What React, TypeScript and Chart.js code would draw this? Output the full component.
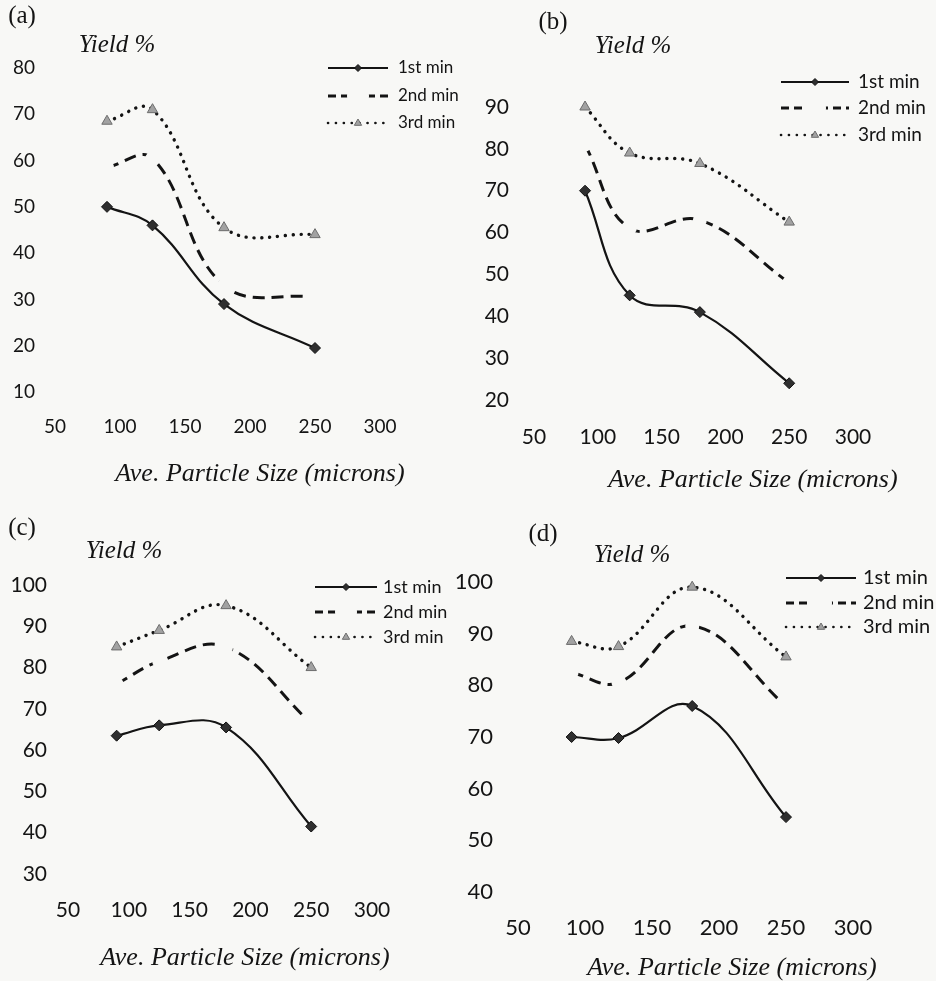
import React, { useEffect, useRef } from 'react';
import { Chart, registerables } from 'chart.js';

Chart.register(...registerables);

// ---------- data ----------
const particleSizes = [90, 125, 180, 250];
const seriesNames = ['1st min', '2nd min', '3rd min'];
const xTickStep = 50;
const xMin = 50;
const xMax = 300;
const yTickStep = 10;

const aFirst = [50, 46, 29, 19.5];
const aSecond = [58.5, 60.5, 33, 30.5];
const aThird = [68.5, 71, 45.5, 44];
const aRange = [10, 80];

const bFirst = [70, 45, 41, 24];
const bSecond = [81, 61, 63, 48];
const bThird = [90, 79, 76.5, 62.5];
const bRange = [20, 90];

const cFirst = [63.5, 66, 65.5, 41.5];
const cSecond = [76, 81.5, 85, 66.5];
const cThird = [85, 89, 95, 80];
const cRange = [30, 100];

const dFirst = [70, 69.8, 76, 54.5];
const dSecond = [82.5, 80.5, 91.5, 76];
const dThird = [88.5, 87.5, 99, 85.5];
const dRange = [40, 100];

const panelTags = ['(a)', '(b)', '(c)', '(d)'];
const yTitle = 'Yield %';
const xTitle = 'Ave. Particle Size (microns)';

// ---------- styles / layout ----------
const BG = '#f8f8f6';
const INK = '#141414';
const SANS = 'Lato, "Open Sans", "Liberation Sans", sans-serif';
const SERIF = '"Liberation Serif", "DejaVu Serif", serif';

type Panel = {
  tag: string;
  first: number[];
  second: number[];
  third: number[];
  range: number[];
  box: { left: number; top: number; w: number; h: number };
  area: { left: number; right: number; top: number; bottom: number };
  tickFont: number;
  yPad: number;
  xPad: number;
  legend: { x0: number; x1: number; textX: number; rows: number[]; font: number };
  tagPos: [number, number];
  yieldPos: [number, number];
  xTitlePos: [number, number];
};

const panels: Panel[] = [
  {
    tag: panelTags[0], first: aFirst, second: aSecond, third: aThird, range: aRange,
    box: { left: 0, top: 0, w: 466, h: 490 },
    area: { left: 55, right: 380, top: 68, bottom: 392 },
    tickFont: 19, yPad: 20, xPad: 23.6,
    legend: { x0: 328, x1: 388, textX: 398, rows: [68, 96, 123], font: 17 },
    tagPos: [22, 14], yieldPos: [117, 43], xTitlePos: [260, 473],
  },
  {
    tag: panelTags[1], first: bFirst, second: bSecond, third: bThird, range: bRange,
    box: { left: 466, top: 0, w: 470, h: 490 },
    area: { left: 68, right: 387, top: 107, bottom: 400 },
    tickFont: 21, yPad: 25, xPad: 24.4,
    legend: { x0: 315, x1: 383, textX: 392, rows: [82, 108, 135], font: 19 },
    tagPos: [87, 20], yieldPos: [167, 44], xTitlePos: [287, 479],
  },
  {
    tag: panelTags[2], first: cFirst, second: cSecond, third: cThird, range: cRange,
    box: { left: 0, top: 490, w: 466, h: 491 },
    area: { left: 68, right: 372, top: 95, bottom: 384 },
    tickFont: 21, yPad: 21, xPad: 23.4,
    legend: { x0: 315, x1: 377, textX: 383, rows: [97, 122, 147], font: 18 },
    tagPos: [22, 36], yieldPos: [124, 59], xTitlePos: [245, 467],
  },
  {
    tag: panelTags[3], first: dFirst, second: dSecond, third: dThird, range: dRange,
    box: { left: 440, top: 490, w: 496, h: 491 },
    area: { left: 78, right: 413, top: 92, bottom: 402 },
    tickFont: 22, yPad: 25, xPad: 22.8,
    legend: { x0: 346, x1: 416, textX: 423, rows: [88, 113, 137], font: 20 },
    tagPos: [103, 42], yieldPos: [192, 63], xTitlePos: [292, 477],
  },
];

// legend drawn from the datasets' own styles
function drawMarker(ctx: CanvasRenderingContext2D, style: string, x: number, y: number, r: number, fill: string, stroke: string, bw: number) {
  ctx.beginPath();
  if (style === 'rectRot') {
    ctx.moveTo(x - r, y); ctx.lineTo(x, y - r); ctx.lineTo(x + r, y); ctx.lineTo(x, y + r); ctx.closePath();
  } else if (style === 'triangle') {
    const h = r * 1.5;
    ctx.moveTo(x - r * 0.87, y + h / 3); ctx.lineTo(x, y - (2 * h) / 3); ctx.lineTo(x + r * 0.87, y + h / 3); ctx.closePath();
  } else {
    ctx.arc(x, y, r, 0, Math.PI * 2);
  }
  ctx.fillStyle = fill;
  ctx.fill();
  if (bw > 0) { ctx.lineWidth = bw; ctx.strokeStyle = stroke; ctx.stroke(); }
}

const sketchLegend = {
  id: 'sketchLegend',
  afterDatasetsDraw(chart: any, _args: any, opts: any) {
    const ctx: CanvasRenderingContext2D = chart.ctx;
    chart.data.datasets.forEach((ds: any, i: number) => {
      const y = opts.rows[i];
      ctx.save();
      ctx.strokeStyle = ds.borderColor;
      ctx.lineWidth = ds.legendLineWidth ?? ds.borderWidth;
      ctx.setLineDash(ds.legendDash ?? ds.borderDash ?? []);
      ctx.lineCap = ds.borderCapStyle || 'butt';
      ctx.beginPath();
      ctx.moveTo(opts.x0, y);
      ctx.lineTo(opts.x1, y);
      ctx.stroke();
      ctx.setLineDash([]);
      drawMarker(ctx, ds.pointStyle, (opts.x0 + opts.x1) / 2, y, ds.legendMarker ?? ds.pointRadius,
        ds.pointBackgroundColor, ds.pointBorderColor, ds.pointBorderWidth || 0);
      ctx.fillStyle = INK;
      ctx.font = `${opts.font}px ${SANS}`;
      ctx.textBaseline = 'middle';
      ctx.textAlign = 'left';
      ctx.fillText(ds.label, opts.textX, y);
      ctx.restore();
    });
  },
};

function PanelChart({ p }: { p: Panel }) {
  const ref = useRef<HTMLCanvasElement>(null);
  useEffect(() => {
    const canvas = ref.current!;
    const pts = (arr: number[]) => particleSizes.map((x, i) => ({ x, y: arr[i] }));
    const tickFont = { family: SANS, size: p.tickFont };
    const chart = new Chart(canvas, {
      type: 'line',
      data: {
        datasets: [
          {
            label: seriesNames[0], data: pts(p.first), clip: false,
            borderColor: INK, borderWidth: 2.2, tension: 0.4,
            pointStyle: 'rectRot', pointRadius: 5.5, pointBackgroundColor: '#2f2f2f',
            pointBorderColor: '#111', pointBorderWidth: 1, legendMarker: 3.5,
          } as any,
          {
            label: seriesNames[1], data: pts(p.second), clip: false,
            borderColor: INK, borderWidth: 3, borderDash: [12, 7], tension: 0.4,
            pointStyle: 'circle', pointRadius: 7, pointBackgroundColor: BG,
            pointBorderColor: BG, pointBorderWidth: 0,
            legendDash: [8, 5], legendMarker: 11, legendLineWidth: 3,
          } as any,
          {
            label: seriesNames[2], data: pts(p.third), clip: false,
            borderColor: INK, borderWidth: 3.4, borderDash: [0.1, 7.8], borderCapStyle: 'round', tension: 0.4,
            pointStyle: 'triangle', pointRadius: 6, pointBackgroundColor: '#a2a2a2',
            pointBorderColor: '#6c6c6c', pointBorderWidth: 1, legendMarker: 4, legendLineWidth: 2.6,
          } as any,
        ],
      },
      options: {
        responsive: false,
        animation: false,
        devicePixelRatio: 1,
        layout: { padding: { top: p.area.top, right: p.box.w - p.area.right, bottom: 0, left: 0 } },
        scales: {
          x: {
            type: 'linear', min: xMin, max: xMax,
            ticks: { stepSize: xTickStep, padding: p.xPad, font: tickFont, color: INK, maxRotation: 0 },
            grid: { display: false, drawTicks: false },
            border: { display: false },
            afterFit: (s: any) => { s.height = p.box.h - p.area.bottom; },
          },
          y: {
            type: 'linear', min: p.range[0], max: p.range[1],
            ticks: { stepSize: yTickStep, padding: p.yPad, font: tickFont, color: INK },
            grid: { display: false, drawTicks: false },
            border: { display: false },
            afterFit: (s: any) => { s.width = p.area.left; },
          },
        },
        plugins: {
          legend: { display: false },
          tooltip: { enabled: false },
          sketchLegend: p.legend,
        } as any,
      },
      plugins: [sketchLegend],
    } as any);
    return () => chart.destroy();
  }, [p]);

  const txt = (x: number, y: number, font: string, content: string, italic: boolean) => (
    <div
      style={{
        position: 'absolute', left: x, top: y, transform: 'translate(-50%, -50%)',
        whiteSpace: 'nowrap', lineHeight: 1, color: INK, fontFamily: SERIF,
        fontSize: font, fontStyle: italic ? 'italic' : 'normal',
      }}
    >
      {content}
    </div>
  );

  return (
    <div style={{ position: 'absolute', left: p.box.left, top: p.box.top, width: p.box.w, height: p.box.h }}>
      <canvas ref={ref} width={p.box.w} height={p.box.h} style={{ position: 'absolute', left: 0, top: 0 }} />
      {txt(p.tagPos[0], p.tagPos[1], '25px', p.tag, false)}
      {txt(p.yieldPos[0], p.yieldPos[1], '25px', yTitle, true)}
      {txt(p.xTitlePos[0], p.xTitlePos[1], '26px', xTitle, true)}
    </div>
  );
}

export default function App() {
  return (
    <div style={{ position: 'fixed', left: 0, top: 0, width: 936, height: 981, background: BG, overflow: 'hidden' }}>
      {panels.map((p) => (
        <PanelChart key={p.tag} p={p} />
      ))}
    </div>
  );
}
